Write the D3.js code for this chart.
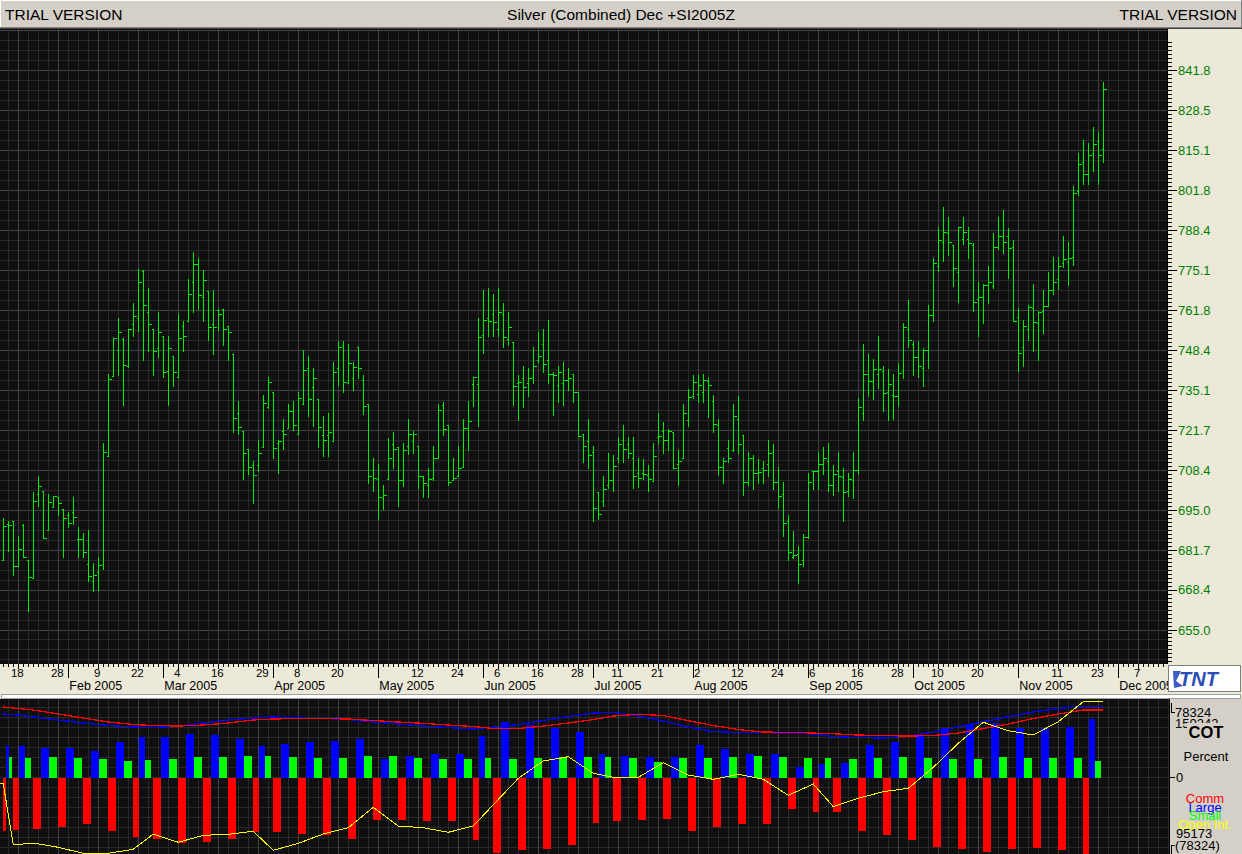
<!DOCTYPE html>
<html><head><meta charset="utf-8">
<script src="https://cdn.jsdelivr.net/npm/d3@7"></script>
<style>
body{margin:0;background:#fff}
svg{display:block}
text{font-family:"Liberation Sans",Arial,sans-serif}
</style></head><body>
<svg id="c" width="1242" height="854"></svg>
<script>
// ---------- DATA ----------
const title = "Silver (Combined) Dec +SI2005Z";
const opens = [678.3,690.1,691.2,676.2,689.8,678.3,672.2,700.2,701.2,688.1,695.9,699.2,695.2,693.2,694.2,685.2,685.3,677.0,671.2,674.2,676.9,713.1,739.8,748.3,752.0,742.9,757.2,758.9,774.8,761.2,755.3,748.9,753.1,741.2,746.2,739.2,756.2,758.2,770.9,777.2,766.1,767.9,756.9,761.8,762.2,756.2,747.0,727.2,721.2,715.3,709.8,709.8,715.9,729.2,734.2,717.3,721.4,722.2,727.9,720.3,730.3,742.2,735.9,732.0,720.1,720.1,718.1,742.2,750.0,737.2,739.0,749.2,738.4,730.3,708.3,705.3,698.9,705.1,717.0,715.9,705.0,716.2,718.1,716.2,706.2,703.1,705.7,712.2,730.1,723.3,705.0,706.2,709.2,722.2,736.9,737.0,753.3,759.2,760.3,755.3,760.3,752.0,751.1,737.3,739.0,737.3,739.2,745.0,750.3,745.0,740.3,736.8,737.2,738.4,740.3,734.2,720.3,717.9,714.4,700.9,697.9,703.3,705.0,712.2,718.3,716.9,712.2,707.2,707.2,706.7,704.7,719.2,721.3,718.3,720.9,710.3,712.2,725.1,732.9,733.6,734.2,737.9,731.2,723.3,709.2,715.5,715.1,725.3,720.1,704.2,712.2,707.2,708.9,710.2,714.2,704.2,700.3,691.2,679.2,680.3,678.3,685.9,707.8,707.8,710.3,711.2,703.1,707.8,705.9,701.1,705.0,708.3,727.3,740.4,737.9,740.4,741.3,734.3,733.4,732.9,741.3,755.4,750.4,745.9,742.3,748.2,760.1,776.3,784.3,787.4,783.4,774.3,785.4,785.4,783.4,765.4,765.9,770.0,769.8,782.9,786.5,786.5,782.9,759.3,749.3,755.4,762.3,757.3,761.3,763.0,768.4,772.0,777.3,777.9,779.3,801.3,811.3,807.0,814.3,818.1,815.4];
const highs = [692.2,691.2,691.2,686.2,690.1,678.3,700.9,706.2,701.2,700.1,699.5,699.2,695.2,694.2,699.2,689.2,687.3,688.2,677.3,679.2,717.2,740.3,752.3,759.0,752.3,755.3,763.9,775.3,775.0,769.2,755.3,761.2,753.1,753.1,746.2,760.3,758.2,772.2,781.2,779.0,775.1,767.9,768.3,762.2,762.2,756.2,747.0,731.2,721.2,715.3,711.2,718.3,733.3,739.4,734.2,718.3,725.3,730.3,731.2,734.2,748.4,746.2,742.3,732.0,726.2,727.3,744.2,751.4,751.4,750.3,744.2,749.2,740.1,730.3,712.2,710.3,703.3,719.0,720.9,715.9,717.2,725.3,721.2,716.2,706.2,708.9,716.2,730.3,730.9,723.3,712.2,716.2,725.3,731.2,739.2,759.2,768.3,769.2,767.2,769.2,764.2,761.2,751.1,740.1,742.9,742.3,749.2,754.4,755.3,758.3,740.9,743.1,744.2,742.3,740.3,734.2,720.3,725.3,716.2,700.9,706.4,714.0,713.3,719.2,723.3,719.2,719.2,712.2,712.0,710.1,717.3,727.3,724.4,722.0,721.1,715.1,730.3,735.3,740.0,740.0,740.3,739.0,733.3,725.3,712.3,718.4,730.3,732.9,720.1,714.2,713.3,712.0,711.2,718.3,717.0,709.4,704.2,693.3,687.9,682.9,687.0,707.2,707.8,714.2,716.1,717.3,710.0,714.2,709.0,707.3,714.2,732.2,750.4,747.0,745.4,753.1,743.1,742.0,740.4,744.0,757.4,765.0,751.2,751.2,748.9,763.4,779.0,789.5,796.1,792.9,783.4,789.5,792.9,789.5,784.0,771.1,770.4,776.3,787.4,792.9,795.0,789.0,785.0,762.3,758.4,763.4,770.4,761.3,768.4,774.3,779.5,779.3,786.3,784.3,803.1,814.3,818.4,817.4,822.9,821.3,837.9];
const lows = [678.1,681.1,673.1,676.2,679.2,661.2,672.2,696.2,685.5,688.1,695.9,693.1,679.1,689.2,690.1,679.1,679.1,671.1,667.9,668.2,675.1,713.1,739.8,740.1,730.1,742.7,753.1,754.7,745.1,748.1,740.1,746.1,739.2,730.1,736.2,739.2,748.1,758.2,761.1,762.0,758.1,751.8,747.0,755.1,750.0,745.1,721.1,720.3,705.1,707.0,697.2,708.1,715.9,728.9,712.2,707.2,715.3,722.2,721.7,720.3,730.3,726.2,723.1,716.1,713.1,712.8,718.1,736.7,734.2,737.2,735.1,739.0,727.0,704.0,701.1,692.0,695.1,705.1,709.0,696.1,702.8,713.7,713.9,702.2,699.2,699.2,705.0,712.2,720.1,703.1,705.0,706.2,709.2,714.8,729.8,722.9,747.2,753.1,753.1,753.1,749.2,750.0,730.1,725.1,729.2,733.1,737.2,744.2,740.9,737.2,726.8,730.9,730.1,735.1,731.1,719.6,711.1,708.9,691.1,692.0,696.1,702.2,701.1,711.1,711.1,712.2,702.2,702.7,705.1,701.1,704.7,717.0,714.0,715.0,708.9,703.1,712.2,723.1,732.2,731.1,731.1,726.1,721.1,706.6,704.0,711.1,714.7,713.9,700.0,703.1,702.0,704.0,704.0,706.2,702.0,695.5,686.1,678.1,679.0,670.6,676.2,685.6,702.0,702.0,707.0,701.1,700.0,701.1,691.1,699.7,698.9,707.0,725.1,733.1,732.0,735.7,728.1,725.0,725.4,729.8,739.0,749.3,740.1,739.3,736.3,742.3,758.1,774.8,778.1,780.2,769.8,764.3,783.7,779.0,761.3,753.1,757.3,764.2,768.9,782.0,780.9,772.3,758.1,741.3,743.1,751.8,747.9,745.1,754.0,763.0,767.0,768.7,776.1,770.0,776.8,800.1,803.7,803.7,808.1,803.7,811.2];
const closes = [689.5,689.9,676.2,682.0,679.2,672.4,697.9,702.9,685.5,697.5,699.5,697.2,692.2,690.5,692.5,685.2,680.9,672.9,673.2,676.4,714.2,738.5,752.2,754.2,743.5,755.3,759.7,770.9,763.3,757.2,747.9,754.2,740.9,748.9,740.9,752.3,752.9,767.2,777.2,766.6,771.6,755.9,755.9,760.3,755.3,754.2,725.5,722.5,713.9,709.2,706.7,713.9,730.5,737.5,715.5,718.1,720.3,727.9,723.3,732.2,741.7,732.0,739.0,722.6,718.4,720.9,740.9,749.5,737.6,743.9,742.6,742.3,729.8,706.2,705.5,699.2,700.0,712.3,715.3,705.0,715.0,720.3,720.3,706.2,704.0,705.3,712.2,728.4,722.0,704.4,705.5,708.9,722.2,724.5,739.2,752.8,758.3,757.9,757.8,761.2,752.8,756.1,736.4,737.8,735.9,739.0,742.9,746.4,743.7,740.5,740.0,740.9,738.3,739.0,734.2,719.6,716.2,713.3,695.5,693.7,702.0,705.0,709.5,717.0,715.3,713.9,706.2,705.6,707.0,705.1,713.1,719.7,718.3,721.4,708.9,711.2,727.2,732.7,737.5,736.6,738.3,736.6,723.6,709.2,711.4,712.2,726.2,717.0,704.2,712.2,707.2,707.5,708.4,713.9,704.2,699.5,690.5,680.9,680.0,677.0,685.9,704.2,707.8,710.3,712.2,703.1,707.0,706.2,700.9,705.1,708.3,729.2,740.4,737.9,742.0,742.0,734.0,737.0,733.1,740.7,755.9,751.7,745.9,742.9,748.5,760.0,777.3,785.0,787.9,784.3,775.6,789.3,787.9,784.0,764.3,765.9,770.0,771.1,782.9,786.5,784.3,782.3,758.1,747.2,756.3,762.6,757.6,760.9,763.0,768.4,770.9,776.3,778.7,779.0,800.7,810.6,807.0,813.5,817.3,813.4,835.6];

const priceTicks = [841.8,828.5,815.1,801.8,788.4,775.1,761.8,748.4,735.1,721.7,708.4,695.0,681.7,668.4,655.0];

// x-axis (trading-day index)
const monthTickIdx = [13,32,54,75,96,118,138,161,182,203,223];
const monthLabels = ["Feb 2005","Mar 2005","Apr 2005","May 2005","Jun 2005","Jul 2005","Aug 2005","Sep 2005","Oct 2005","Nov 2005","Dec 2005"];
const dayTickIdx = [3,11,19,27,35,43,52,59,67,83,91,99,107,115,123,131,139,147,155,162,171,179,187,195,211,219,227];
const dayLabels = ["18","28","9","22","4","16","29","8","20","12","24","6","16","28","11","21","2","12","24","6","16","28","10","20","11","23","7"];

// COT weekly data
const weekStart = [1,3,7,12,17,22,27,31,36,41,46,51,55,60,65,70,75,80,85,90,95,99,104,109,114,119,123,128,133,138,143,148,153,158,163,167,172,177,182,187,192,197,202,207,212,217];
const weekDays  = [2,4,5,5,5,5,4,5,5,5,5,4,5,5,5,5,5,5,5,5,4,5,5,5,5,4,5,5,5,5,5,5,5,5,4,5,5,5,5,5,5,5,5,5,5,4];
const comm  = [-63250,-61710,-60520,-58500,-54940,-63250,-70370,-72750,-77140,-76300,-72750,-64440,-64440,-66810,-68000,-72750,-49840,-49840,-51030,-51030,-73580,-89360,-85440,-84610,-79510,-53760,-51030,-49840,-48650,-63250,-58500,-54940,-54940,-37140,-40350,-40350,-63250,-68000,-73580,-81880,-84610,-88170,-84610,-83420,-85440,-91730];
const large = [37620,37620,35240,35240,31680,42720,48300,48300,52210,50670,45920,37970,40350,42720,43550,45920,22190,26110,28120,28120,49480,66450,62540,59330,54230,28120,26110,24560,24560,38800,33700,28120,28120,12700,16260,17440,38800,42360,49480,59330,62540,64560,59330,59330,60520,69660];
const small = [24560,23380,24560,23380,22190,19820,21360,22190,24560,24560,26110,26110,24560,23380,23380,26110,26110,23380,22190,22190,23380,22190,23380,24560,24560,24560,23380,18630,23380,23380,24560,26110,24560,23380,23380,22190,23380,24560,23380,22190,22190,24560,23380,23380,23380,19820];
const openInt = [120350,98190,98910,97350,95173,95173,96630,102180,99170,101710,102070,103160,96260,98800,102180,104470,111880,105090,104470,102800,105090,112830,122420,128700,130260,124230,122780,122780,128080,123620,122050,123870,122050,116240,120350,112100,115150,117550,118780,126410,135130,142760,139710,138140,142980,150242];
const commLine = [83900,82710,80340,75590,70850,66100,63130,61950,61350,62540,64910,68470,69660,70250,70250,69660,67880,66100,64560,62540,60760,58390,58390,61350,64910,69070,73220,75240,73810,67640,61950,57200,54230,53880,53050,52210,50670,50080,49480,50080,53050,58390,63720,70250,75590,80340];
const largeLine = [75590,75000,72030,68470,64910,61950,60170,59570,61350,64910,68470,70850,72030,70850,70250,69070,66100,63720,61350,59570,57790,60170,63130,67880,72630,76780,77370,73220,67290,60170,54830,53640,53400,53050,51860,48890,47700,47110,49480,54230,60520,66450,72390,77970,82120,84490];
const cotMax = 78324, oiMax = 150242, oiMin = 95173;

// ---------- DRAW ----------
const W = 1242, H = 854;
const svg = d3.select("#c");
const BG = "#0f0f0f", GMIN = "#282828", GMAJ = "#434343";
const BEIGE = "#ece9d8", GRAY = "#d4d0c8";

const x = d3.scaleLinear().domain([0, 220]).range([3.3, 1103.3]);
const y = d3.scaleLinear().domain([655.0, 841.8]).range([630.0, 70.7]);
const col = v => Math.floor(v) + 0.5;

// title bar
svg.append("rect").attr("x",0).attr("y",0).attr("width",W).attr("height",29).attr("fill",GRAY);
svg.append("path").attr("d","M0,0.5H1242M0.5,0V28").attr("stroke","#fff");
svg.append("path").attr("d","M0,27.5H1242M1241.5,0V28").attr("stroke","#808080");
svg.append("path").attr("d","M0,28.5H1242").attr("stroke","#404040");
const tf = "15.5px";
svg.append("text").attr("x",5).attr("y",20).attr("font-size",tf).text("TRIAL VERSION");
svg.append("text").attr("x",621).attr("y",20).attr("font-size",tf).attr("text-anchor","middle").text(title);
svg.append("text").attr("x",1237).attr("y",20).attr("font-size",tf).attr("text-anchor","end").text("TRIAL VERSION");

// main plot background
const PX1 = 1167, PY0 = 29, PY1 = 664;
svg.append("rect").attr("x",0).attr("y",PY0).attr("width",PX1).attr("height",PY1-PY0).attr("fill",BG);
svg.append("clipPath").attr("id","cm").append("rect").attr("x",0).attr("y",PY0).attr("width",PX1).attr("height",PY1-PY0);
svg.append("clipPath").attr("id","cl").append("rect").attr("x",0).attr("y",699).attr("width",1169).attr("height",155);

function vGrid(g, y0, y1) {
  const ks = d3.range(1, 240, 2);
  ks.forEach(k => {
    const xx = col(x(k));
    if (xx > 1169) return;
    g.append("path").attr("d",`M${xx},${y0}V${y1}`)
      .attr("stroke", ((k-3) % 8 === 0) ? GMAJ : GMIN);
  });
}
const gm = svg.append("g").attr("clip-path","url(#cm)").attr("shape-rendering","crispEdges");
// horizontal grid derived from price scale
const gstep = (841.8-655.0)/56;
d3.range(-3, 61).forEach(i => {
  const yy = col(y(655.0 + i*gstep));
  gm.append("path").attr("d",`M0,${yy}H${PX1}`).attr("stroke", (i % 4 === 0) ? GMAJ : GMIN);
});
vGrid(gm, PY0, PY1);

// OHLC bars
let dBar = "";
opens.forEach((o,i) => {
  const xx = col(x(i));
  const yh = Math.floor(y(highs[i])), yl = Math.floor(y(lows[i]));
  const yo = col(y(o)), yc = col(y(closes[i]));
  dBar += `M${xx},${yh}V${yl+1}M${xx-2},${yo}H${xx}M${xx},${yc}H${xx+3}`;
});
gm.append("path").attr("d",dBar).attr("stroke","#00ee00").attr("fill","none");

// right price axis
svg.append("rect").attr("x",PX1).attr("y",PY0).attr("width",W-PX1).attr("height",PY1-PY0).attr("fill",BEIGE);
const ax = svg.append("g").attr("shape-rendering","crispEdges");
ax.append("path").attr("d",`M${PX1+0.5},${PY0}V${PY1}`).attr("stroke","#000");
const mstep = (841.8-655.0)/140;
d3.range(-9, 148).forEach(i => {
  const yy = col(y(655.0 + i*mstep));
  if (yy < PY0+1 || yy > PY1-1) return;
  const major = (i % 10 === 0);
  ax.append("path").attr("d",`M${PX1},${yy}H${PX1 + (major ? 10 : 5)}`).attr("stroke","#000");
});
priceTicks.forEach(v => {
  svg.append("text").attr("x",1178).attr("y",y(v)+4.6).attr("font-size","13px").attr("fill","#008000").text(v.toFixed(1));
});

// x axis band
svg.append("rect").attr("x",0).attr("y",PY1).attr("width",W).attr("height",35).attr("fill",BEIGE);
const xa = svg.append("g").attr("shape-rendering","crispEdges");
let dT = "";
d3.range(0, 233).forEach(k => { const xx = col(x(k)); if (xx < PX1) dT += `M${xx},${PY1}V${PY1+3}`; });
dayTickIdx.forEach(k => { const xx = col(x(k)); if (xx < PX1) dT += `M${xx},${PY1}V${PY1+5}`; });
monthTickIdx.forEach(k => { const xx = col(x(k)); dT += `M${xx},${PY1}V${PY1+14}`; });
xa.append("path").attr("d",dT).attr("stroke","#000");
dayTickIdx.forEach((k,i) => {
  svg.append("text").attr("x",x(k)-1).attr("y",PY1+13).attr("font-size","11.5px").attr("text-anchor","middle").text(dayLabels[i]);
});
monthTickIdx.forEach((k,i) => {
  svg.append("text").attr("x",x(k)+1).attr("y",PY1+25.5).attr("font-size","12.5px").text(monthLabels[i]);
});
// scroll strip
svg.append("rect").attr("x",1.5).attr("y",694.5).attr("width",1239).attr("height",4).attr("fill","#fff").attr("stroke","#a0a0a0");

// TNT logo box
svg.append("rect").attr("x",1168.5).attr("y",665.5).attr("width",72).attr("height",26).attr("fill","#fff").attr("stroke","#808080");
svg.append("path").attr("d","M1173,671 L1181,671 L1176,681 L1183,686 L1174,688 Z").attr("fill","#3a5bc8");
svg.append("text").attr("x",1179).attr("y",686).attr("font-size","20px").attr("font-weight","bold").attr("font-style","italic").attr("fill","#2a4db8").text("TNT");

// lower COT panel
const LY0 = 699, LY1 = 854;
svg.append("rect").attr("x",0).attr("y",LY0).attr("width",1169).attr("height",LY1-LY0).attr("fill",BG);
const gl = svg.append("g").attr("clip-path","url(#cl)").attr("shape-rendering","crispEdges");
d3.range(0, 16).forEach(i => {
  const yy = 707.5 + i*10;
  gl.append("path").attr("d",`M0,${yy}H1169`).attr("stroke", GMIN);
});
vGrid(gl, LY0, LY1);

const yb = d3.scaleLinear().domain([-cotMax, cotMax]).range([844, 711.7]);
const yo = d3.scaleLinear().domain([oiMin, oiMax]).range([853.3, 701.7]);
const z = Math.round(yb(0));
weekStart.forEach((ws,i) => {
  const gx = Math.floor(x(ws-1));
  const w = Math.floor(weekDays[i]*5/3);
  const yc = Math.round(yb(comm[i])), yl = Math.round(yb(large[i])), ys = Math.round(yb(small[i]));
  gl.append("rect").attr("x",gx).attr("y",z).attr("width",w).attr("height",yc-z).attr("fill","#ff0000");
  gl.append("rect").attr("x",gx+w).attr("y",yl).attr("width",w).attr("height",z-yl).attr("fill","#0000ff");
  gl.append("rect").attr("x",gx+2*w).attr("y",ys).attr("width",w).attr("height",z-ys).attr("fill","#00ff00");
});
const gx0 = i => x(weekStart[i]-1);
const lineFn = (arr, sc) => {
  const pts = arr.map((v,i) => [gx0(i), sc(v)]);
  pts.push([x(220), sc(arr[arr.length-1])]);
  return d3.line()(pts);
};
const gl2 = svg.append("g").attr("clip-path","url(#cl)");
gl2.append("path").attr("d",lineFn(largeLine, yb)).attr("stroke","#0000ff").attr("stroke-width",1.3).attr("fill","none").attr("shape-rendering","crispEdges");
gl2.append("path").attr("d",lineFn(commLine, yb)).attr("stroke","#ff0000").attr("stroke-width",1.3).attr("fill","none").attr("shape-rendering","crispEdges");
const oiPts = [[0, yo(openInt[0])]].concat(openInt.map((v,i)=>[gx0(i), yo(v)]));
oiPts.push([x(220), yo(openInt[openInt.length-1])]);
gl2.append("path").attr("d",d3.line()(oiPts)).attr("stroke","#ffff00").attr("stroke-width",1).attr("fill","none").attr("shape-rendering","crispEdges");

// lower right legend panel
svg.append("rect").attr("x",1169).attr("y",LY0).attr("width",W-1169).attr("height",LY1-LY0).attr("fill",GRAY);
svg.append("path").attr("d","M1169.5,699V854M1171.5,703V712.5H1175M1171.5,854V845.5H1175M1170,777.5H1175").attr("stroke","#000").attr("fill","none").attr("shape-rendering","crispEdges");
const lt = (t, xx, yy, opt={}) => {
  const e = svg.append("text").attr("x",xx).attr("y",yy).attr("font-size",opt.fs||"13px").attr("fill",opt.fill||"#000").text(t);
  if (opt.anchor) e.attr("text-anchor",opt.anchor);
  if (opt.bold) e.attr("font-weight","bold");
  return e;
};
lt(String(cotMax), 1175, 717);
lt(String(oiMax), 1175, 728);
svg.append("rect").attr("x",1187).attr("y",723).attr("width",40).attr("height",17).attr("fill",GRAY);
lt("COT", 1206, 738, {fs:"16.5px", bold:true, anchor:"middle"});
lt("Percent", 1206, 761, {anchor:"middle"});
lt("0", 1176, 782);
lt("Comm", 1205, 803, {fill:"#ff0000", anchor:"middle"});
lt("Large", 1205, 811.5, {fill:"#0000ff", anchor:"middle"});
lt("Small", 1205, 820, {fill:"#00ff00", anchor:"middle"});
lt("Open Int.", 1205, 828.5, {fill:"#ffff00", anchor:"middle"});
lt(String(oiMin), 1176, 837.5);
lt("(" + cotMax + ")", 1175, 849.5);
</script></body></html>
